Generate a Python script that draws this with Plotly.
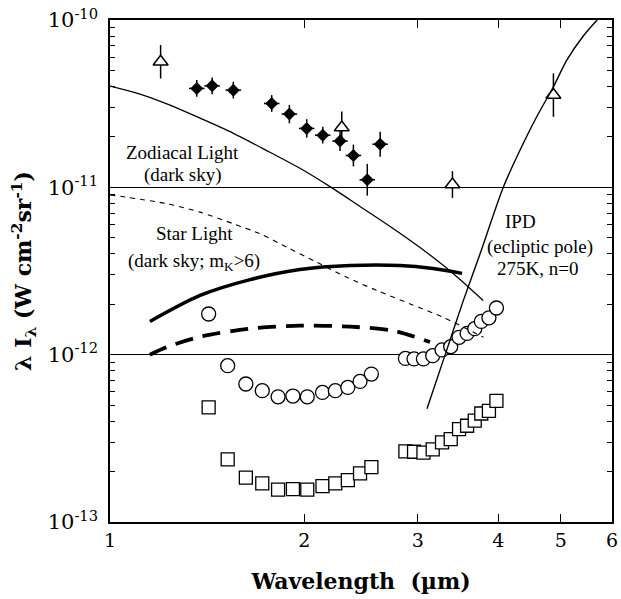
import plotly.graph_objects as go
import numpy as np

# ---------------- data ----------------
# filled diamonds with error bars
dia_wl = [1.363, 1.440, 1.553, 1.781, 1.897, 2.018, 2.137, 2.273, 2.384, 2.505, 2.623]
dia_val = [3.90e-11, 4.04e-11, 3.81e-11, 3.17e-11, 2.74e-11, 2.25e-11, 2.05e-11,
           1.89e-11, 1.55e-11, 1.11e-11, 1.81e-11]
dia_err_dex = [0.05, 0.05, 0.05, 0.05, 0.055, 0.055, 0.05, 0.06, 0.065, 0.095, 0.075]
dia_wl_err_dex = [0.012] * len(dia_wl)

# open triangles with error bars
tri_wl = [1.198, 2.287, 3.395, 4.868]
tri_val = [5.63e-11, 2.28e-11, 1.04e-11, 3.56e-11]
tri_err_dex = [0.10, 0.095, 0.08, 0.13]

# open circles / open squares (same wavelengths)
grp_wl = [1.422, 1.522, 1.624, 1.722, 1.822, 1.921, 2.022, 2.135, 2.235, 2.337, 2.441, 2.542,
          2.870, 2.960, 3.061, 3.164, 3.271, 3.374, 3.476, 3.577, 3.676, 3.763, 3.867, 3.972]
circ_val = [1.75e-12, 8.59e-13, 6.68e-13, 6.09e-13, 5.60e-13, 5.66e-13, 5.60e-13, 5.95e-13,
            6.09e-13, 6.37e-13, 6.92e-13, 7.66e-13,
            9.50e-13, 9.43e-13, 9.43e-13, 9.86e-13, 1.067e-12, 1.117e-12, 1.27e-12, 1.34e-12,
            1.43e-12, 1.58e-12, 1.66e-12, 1.90e-12]
sq_val = [4.84e-13, 2.37e-13, 1.84e-13, 1.70e-13, 1.56e-13, 1.57e-13, 1.56e-13, 1.64e-13,
          1.70e-13, 1.78e-13, 1.95e-13, 2.13e-13,
          2.64e-13, 2.63e-13, 2.60e-13, 2.72e-13, 2.99e-13, 3.13e-13, 3.59e-13, 3.76e-13,
          4.03e-13, 4.45e-13, 4.62e-13, 5.30e-13]

# curves
zodi_wl = [1.0, 1.113, 1.239, 1.379, 1.551, 1.770, 1.970, 2.193, 2.441, 2.718, 3.024, 3.403, 3.788]
zodi_val = [4.03e-11, 3.61e-11, 3.10e-11, 2.59e-11, 2.11e-11, 1.62e-11, 1.30e-11, 1.01e-11,
            7.69e-12, 5.84e-12, 4.37e-12, 3.06e-12, 2.11e-12]

star_wl = [1.0, 1.224, 1.379, 1.553, 1.708, 1.879, 2.091, 2.328, 2.592, 2.919, 3.287, 3.792]
star_val = [9.02e-12, 7.99e-12, 7.11e-12, 6.06e-12, 5.28e-12, 4.39e-12, 3.57e-12, 2.90e-12,
            2.42e-12, 2.01e-12, 1.67e-12, 1.27e-12]

thick_wl = [1.153, 1.379, 1.649, 1.970, 2.356, 2.817, 3.168, 3.513]
thick_val = [1.58e-12, 2.26e-12, 2.81e-12, 3.23e-12, 3.41e-12, 3.41e-12, 3.27e-12, 3.06e-12]

thickd_wl = [1.153, 1.224, 1.379, 1.649, 1.970, 2.356, 2.750, 3.134]
thickd_val = [1.00e-12, 1.11e-12, 1.28e-12, 1.43e-12, 1.49e-12, 1.47e-12, 1.39e-12, 1.19e-12]

ipd_wl = [3.100, 3.306, 3.530, 3.747, 4.072, 4.322, 4.586, 4.868, 5.106, 5.412, 5.689]
ipd_val = [4.75e-13, 9.94e-13, 2.11e-12, 4.01e-12, 1.005e-11, 1.67e-11, 2.64e-11, 3.99e-11,
           5.76e-11, 8.0e-11, 1.0e-10]

x_ticks = [1, 2, 3, 4, 5, 6]
y_ticks = [1e-13, 1e-12, 1e-11, 1e-10]
y_ticktext = ["10<sup>-13</sup>", "10<sup>-12</sup>", "10<sup>-11</sup>", "10<sup>-10</sup>"]
y_minor = [k * 10.0 ** e for e in (-13, -12, -11) for k in range(2, 10)]

# ---------------- helpers ----------------
def plus(vals, dex):
    return [v * (10 ** d - 1) for v, d in zip(vals, dex)]

def minus(vals, dex):
    return [v * (1 - 10 ** -d) for v, d in zip(vals, dex)]

SERIF = "DejaVu Serif"
TIMES = "Liberation Serif"
fig = go.Figure()

# markers
fig.add_trace(go.Scatter(
    x=dia_wl, y=dia_val, mode="markers",
    marker=dict(symbol="diamond", size=10, color="black"),
    error_y=dict(type="data", array=plus(dia_val, dia_err_dex),
                 arrayminus=minus(dia_val, dia_err_dex), color="black", thickness=1.5, width=0),
    error_x=dict(type="data", array=plus(dia_wl, dia_wl_err_dex),
                 arrayminus=minus(dia_wl, dia_wl_err_dex), color="black", thickness=1.5, width=0),
    showlegend=False))

fig.add_trace(go.Scatter(
    x=tri_wl, y=tri_val, mode="markers",
    marker=dict(symbol="triangle-up", size=13, color="white", line=dict(color="black", width=1.5)),
    error_y=dict(type="data", array=plus(tri_val, tri_err_dex),
                 arrayminus=minus(tri_val, tri_err_dex), color="black", thickness=1.5, width=0),
    showlegend=False))

fig.add_trace(go.Scatter(
    x=grp_wl, y=circ_val, mode="markers",
    marker=dict(symbol="circle", size=14, color="white", line=dict(color="black", width=1.3)),
    showlegend=False))

fig.add_trace(go.Scatter(
    x=grp_wl, y=sq_val, mode="markers",
    marker=dict(symbol="square", size=13, color="white", line=dict(color="black", width=1.3)),
    showlegend=False))

# curves
fig.add_trace(go.Scatter(x=zodi_wl, y=zodi_val, mode="lines",
                         line=dict(color="black", width=1.3, shape="spline", smoothing=0.8),
                         showlegend=False))
fig.add_trace(go.Scatter(x=star_wl, y=star_val, mode="lines",
                         line=dict(color="black", width=1.1, dash="5px,5px", shape="spline", smoothing=0.8),
                         showlegend=False))
fig.add_trace(go.Scatter(x=thick_wl, y=thick_val, mode="lines",
                         line=dict(color="black", width=3.5, shape="spline", smoothing=0.8),
                         showlegend=False))
fig.add_trace(go.Scatter(x=thickd_wl, y=thickd_val, mode="lines",
                         line=dict(color="black", width=3.8, dash="18px,10px", shape="spline", smoothing=0.8),
                         showlegend=False))
fig.add_trace(go.Scatter(x=ipd_wl, y=ipd_val, mode="lines",
                         line=dict(color="black", width=1.4, shape="spline", smoothing=0.8),
                         showlegend=False))

# empty trace that carries the minor-tick axis
fig.add_trace(go.Scatter(x=[], y=[], yaxis="y2", showlegend=False, hoverinfo="skip"))

# labels
labels = [
    ("Zodiacal Light", 1.297, 1.62e-11),
    ("(dark sky)", 1.297, 1.18e-11),
    ("Star Light", 1.35, 5.28e-12),
    ("(dark sky; m<sub>K</sub>>6)", 1.35, 3.60e-12),
    ("IPD", 4.33, 6.25e-12),
    ("(ecliptic pole)", 4.64, 4.40e-12),
    ("275K, n=0", 4.60, 3.28e-12),
]
for txt, xv, yv in labels:
    fig.add_annotation(x=np.log10(xv), y=np.log10(yv), xref="x", yref="y", text=txt,
                       showarrow=False, font=dict(family=TIMES, size=19, color="black"))

fig.update_layout(
    width=621, height=599,
    margin=dict(l=110, r=9, t=20, b=77),
    paper_bgcolor="white", plot_bgcolor="white",
    font=dict(family=SERIF, color="black"),
    hovermode=False,
    yaxis2=dict(type="log", range=[-13, -10], overlaying="y", anchor="x", side="left",
                tickvals=y_minor, ticks="inside", ticklen=5, tickwidth=1.1, tickcolor="black",
                showticklabels=False, showgrid=False, zeroline=False, showline=False,
                mirror="ticks", automargin=False),
)

fig.update_xaxes(
    type="log", range=[0, np.log10(6)], automargin=False,
    tickvals=x_ticks, ticktext=[str(v) for v in x_ticks],
    ticks="inside", ticklen=8, tickwidth=1.2, tickcolor="black",
    showline=True, linecolor="black", linewidth=1.5, mirror="ticks",
    showgrid=False, zeroline=False,
    tickfont=dict(family=SERIF, size=19),
    title=dict(text="<b>Wavelength\u00a0\u00a0(\u00b5m)</b>",
               font=dict(family=SERIF, size=22), standoff=24),
)
fig.layout.yaxis.update(
    type="log", range=[-13, -10], automargin=False,
    tickvals=y_ticks, ticktext=y_ticktext,
    ticks="inside", ticklen=9, tickwidth=1.2, tickcolor="black",
    ticklabelstandoff=6,
    showline=True, linecolor="black", linewidth=1.5, mirror="ticks",
    showgrid=True, gridcolor="black", gridwidth=1, zeroline=False,
    tickfont=dict(family=SERIF, size=21),
    title=dict(text="<b>\u03bb I<sub>\u03bb</sub> (W cm<sup>-2</sup>sr<sup>-1</sup>)</b>",
               font=dict(family=SERIF, size=22), standoff=10),
)

# remove the page's default body margin so the figure sits at the window's corner
fig.write_html("out.html", config={"displayModeBar": False},
               post_script="document.body.style.margin='0';document.body.style.overflow='hidden';")
